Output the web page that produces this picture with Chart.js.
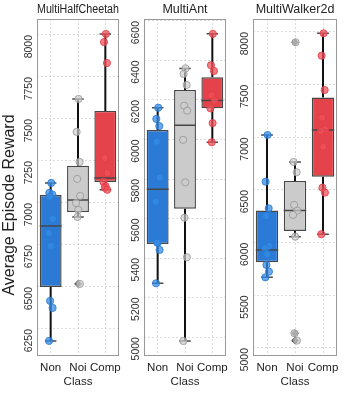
<!DOCTYPE html>
<html>
<head>
<meta charset="utf-8">
<script src="https://cdn.jsdelivr.net/npm/chart.js@4.4.1/dist/chart.umd.min.js"></script>
<style>
  html, body { margin: 0; padding: 0; background: #fff; }
  #wrap { position: relative; width: 344px; height: 394px; }
  #wrap canvas { position: absolute; top: 0; }
</style>
</head>
<body>
<div id="wrap">
  <canvas id="cheetahChart" width="124" height="394" style="left:0"></canvas>
  <canvas id="antChart" width="107" height="394" style="left:124px"></canvas>
  <canvas id="walkerChart" width="113" height="394" style="left:231px"></canvas>
</div>
<script>
const classes = ['Non', 'Noi', 'Comp'];

// each box: [whisker low, q1, median, q3, whisker high]
const cheetahBoxes = [
  [6179, 6500, 6863, 7047, 7119],
  [6917, 6946, 7018, 7222, 7619],
  [7078, 7125, 7149, 7548, 8006]
];
const cheetahPoints = [
  [7119, 7060, 7050, 7036, 6905, 6821, 6744, 6417, 6375, 6179],
  [7619, 7423, 7244, 7143, 7042, 7000, 6958, 6917, 6518],
  [8006, 7958, 7833, 7268, 7179, 7125, 7100, 7090, 7078]
];
const cheetahOutliers = [[], [6518], []];
const cheetahTicks = [6250, 6500, 6750, 7000, 7250, 7500, 7750, 8000];

const antBoxes = [
  [5272, 5471, 5748, 6048, 6161],
  [4980, 5650, 6072, 6251, 6360],
  [5986, 6158, 6197, 6315, 6535]
];
const antPoints = [
  [6161, 6104, 6068, 5989, 5807, 5685, 5478, 5478, 5441, 5272],
  [6360, 6332, 6276, 6171, 6146, 5998, 5783, 5604, 5404, 4980],
  [6535, 6376, 6347, 6224, 6197, 6158, 6083, 5986]
];
const antOutliers = [[], [], []];
const antTicks = [5000, 5200, 5400, 5600, 5800, 6000, 6200, 6400, 6600];

const walkerBoxes = [
  [5671, 5814, 5931, 6304, 7022],
  [6057, 6111, 6304, 6586, 6766],
  [6080, 6626, 7070, 7377, 7987]
];
const walkerPoints = [
  [7022, 6579, 6326, 6253, 5970, 5945, 5890, 5788, 5725, 5671],
  [7902, 6766, 6668, 6358, 6304, 6263, 6057, 5140, 5070],
  [7987, 7775, 7449, 7187, 7076, 7060, 6911, 6522, 6475, 6080]
];
const walkerOutliers = [[], [7902, 5140, 5070], []];
const walkerTicks = [5000, 5500, 6000, 6500, 7000, 7500, 8000];

// small horizontal spread for the strip points
const jitter = [0.02, -0.05, 0.06, -0.03, 0.08, -0.07, 0.01, -0.02, 0.07, -0.06];

const boxFill = ['#2b7bd6', '#cbcbcb', '#e5434b'];
const pointFill = ['rgba(52,140,230,0.75)', 'rgba(205,205,205,0.7)', 'rgba(240,80,88,0.75)'];
const pointEdge = ['rgba(40,120,210,0.8)', 'rgba(150,150,150,0.8)', 'rgba(225,60,70,0.8)'];
const FONT = 'Liberation Sans, Arial, sans-serif';

const framePlugin = {
  id: 'frame',
  afterDraw(chart) {
    const { ctx, chartArea: a } = chart;
    ctx.save();
    ctx.strokeStyle = '#9a9a9a';
    ctx.lineWidth = 1;
    ctx.strokeRect(Math.round(a.left) + 0.5, Math.round(a.top) + 0.5, Math.round(a.width) - 1, Math.round(a.height) - 1);
    ctx.restore();
  }
};

// shared y label, sits a bit lower than the axis middle
const sideLabelPlugin = {
  id: 'sideLabel',
  afterDraw(chart, args, opts) {
    if (!opts.text) return;
    const { ctx } = chart;
    ctx.save();
    ctx.translate(opts.x, opts.y);
    ctx.rotate(-Math.PI / 2);
    ctx.font = `${opts.size}px ${FONT}`;
    ctx.fillStyle = '#222';
    ctx.textAlign = 'center';
    ctx.textBaseline = 'middle';
    ctx.fillText(opts.text, 0, 0);
    ctx.restore();
  }
};

function buildPanel(id, title, boxes, points, outliers, ticks, range, yWidth, rightPad, yTitle) {
  const whiskers = [];
  const caps = [];
  const medians = [];
  boxes.forEach(([lo, q1, med, q3, hi], i) => {
    whiskers.push({ x: i, y: lo }, { x: i, y: q1 }, { x: i, y: null }, { x: i, y: q3 }, { x: i, y: hi }, { x: i, y: null });
    caps.push({ x: i - 0.21, y: lo }, { x: i + 0.21, y: lo }, { x: i, y: null },
      { x: i - 0.21, y: hi }, { x: i + 0.21, y: hi }, { x: i, y: null });
    medians.push({ x: i - 0.4, y: med }, { x: i + 0.4, y: med }, { x: i, y: null });
  });

  const lineSet = (data, color, width, order) => ({
    type: 'line', data, borderColor: color, borderWidth: width,
    pointRadius: 0, spanGaps: false, fill: false, order
  });

  const datasets = [
    lineSet(whiskers, '#111', 2, 6),
    {
      type: 'bar',
      data: boxes.map((b, i) => ({ x: i, y: [b[1], b[3]] })),
      backgroundColor: boxFill,
      borderColor: '#474747',
      borderWidth: 1.4,
      borderSkipped: false,
      categoryPercentage: 0.9,
      barPercentage: 0.89,
      order: 5
    },
    lineSet(medians, '#474747', 1.5, 4),
    lineSet(caps, '#4a4a4a', 1.5, 4),
    {
      type: 'scatter',
      data: outliers.flatMap((vals, i) => vals.map((v) => ({ x: i, y: v }))),
      pointStyle: 'rectRot',
      pointRadius: 3.4,
      backgroundColor: '#5a5a5a',
      borderColor: '#5a5a5a',
      order: 3
    }
  ];

  points.forEach((vals, i) => {
    datasets.push({
      type: 'scatter',
      data: vals.map((v, k) => ({ x: i + jitter[k % jitter.length], y: v })),
      pointRadius: 3.6,
      backgroundColor: pointFill[i],
      borderColor: pointEdge[i],
      borderWidth: 1,
      order: 1
    });
  });

  return new Chart(document.getElementById(id), {
    data: { datasets },
    plugins: [framePlugin, sideLabelPlugin],
    options: {
      responsive: false,
      animation: false,
      layout: { padding: { left: 0, right: rightPad, top: 0, bottom: 0 } },
      plugins: {
        legend: { display: false },
        tooltip: { enabled: false },
        title: {
          display: true,
          text: title,
          fullSize: false,
          color: '#222',
          font: { family: FONT, size: 12.5, weight: 'normal' },
          padding: { top: 2.5, bottom: 1.5 }
        },
        sideLabel: { text: yTitle || '', x: 10, y: 205, size: 16 }
      },
      scales: {
        x: {
          type: 'linear',
          min: -0.5,
          max: 2.5,
          offset: false,
          afterBuildTicks: (s) => { s.ticks = classes.map((c, i) => ({ value: i })); },
          afterFit: (s) => { s.height = 38; s.paddingLeft = 0; s.paddingRight = 0; },
          ticks: {
            callback: (v) => classes[v],
            color: '#222',
            font: { family: FONT, size: 11.5 },
            padding: 5,
            maxRotation: 0,
            autoSkip: false
          },
          grid: { color: '#d4d4d4', lineWidth: 0.8, drawTicks: false, offset: false },
          border: { display: false, dash: [2, 2] },
          title: {
            display: true,
            text: 'Class',
            color: '#222',
            font: { family: FONT, size: 11.5 },
            padding: { top: 0, bottom: 5 }
          }
        },
        y: {
          type: 'linear',
          min: range[0],
          max: range[1],
          afterBuildTicks: (s) => { s.ticks = ticks.map((v) => ({ value: v })); },
          afterFit: (s) => { s.width = yWidth; s.paddingTop = 0; s.paddingBottom = 0; },
          ticks: {
            callback: (v) => String(v),
            color: '#333',
            font: { family: FONT, size: 10.5 },
            padding: 7.5,
            minRotation: 90,
            maxRotation: 90
          },
          grid: { color: '#d4d4d4', lineWidth: 0.8, drawTicks: false },
          border: { display: false, dash: [2, 2] }
        }
      }
    }
  });
}

buildPanel('cheetahChart', 'MultiHalfCheetah', cheetahBoxes, cheetahPoints, cheetahOutliers,
  cheetahTicks, [6089, 8095], 37, 2, 'Average Episode Reward');
buildPanel('antChart', 'MultiAnt', antBoxes, antPoints, antOutliers,
  antTicks, [4904, 6610], 20, 2);
buildPanel('walkerChart', 'MultiWalker2d', walkerBoxes, walkerPoints, walkerOutliers,
  walkerTicks, [4924, 8123], 22, 7);
</script>
</body>
</html>
